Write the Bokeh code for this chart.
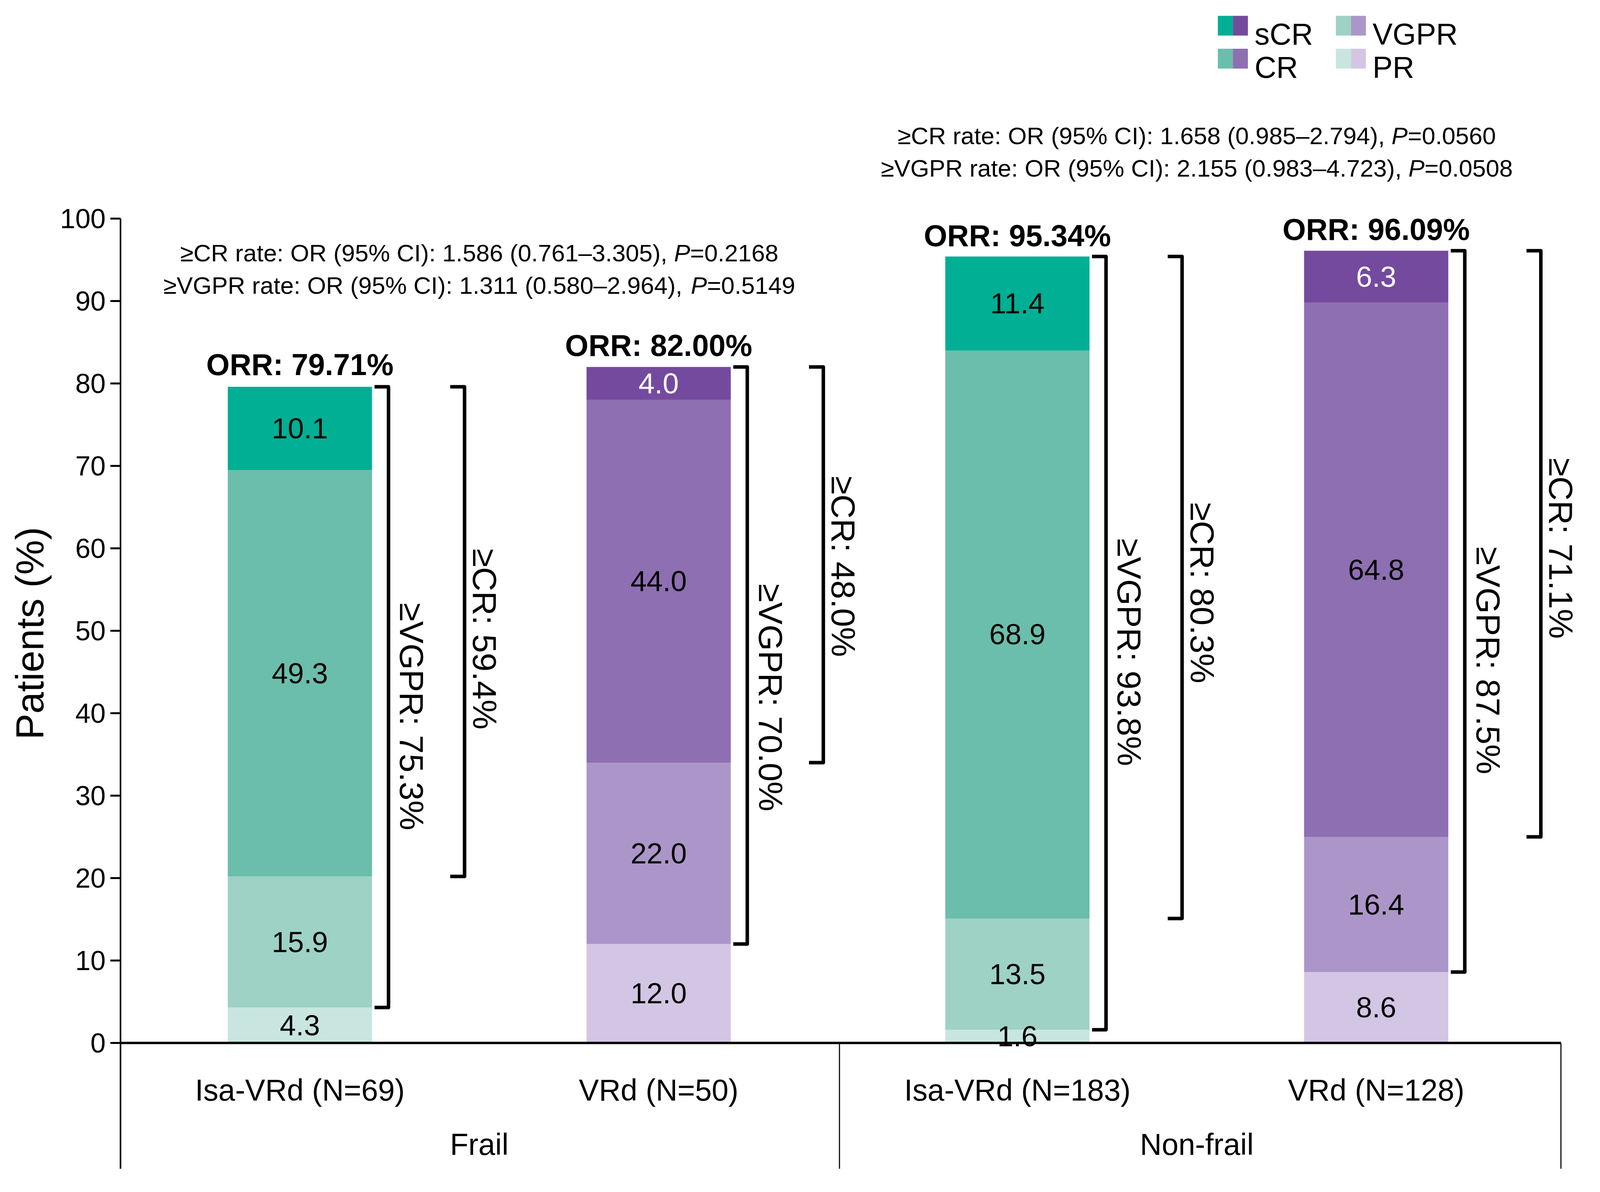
import math
from bokeh.plotting import figure
from bokeh.models import ColumnDataSource, FixedTicker
from bokeh.embed import file_html
from bokeh.resources import INLINE
from bokeh.core.properties import value

# ---------------- data ----------------
groups = ["Frail", "Non-frail"]
arms = ["Isa-VRd (N=69)", "VRd (N=50)", "Isa-VRd (N=183)", "VRd (N=128)"]
arm_group = ["Frail", "Frail", "Non-frail", "Non-frail"]
arm_family = ["isa", "vrd", "isa", "vrd"]
responses = ["PR", "VGPR", "CR", "sCR"]          # stacked bottom -> top
pr = [4.3, 12.0, 1.6, 8.6]
vgpr = [15.9, 22.0, 13.5, 16.4]
cr = [49.3, 44.0, 68.9, 64.8]
scr = [10.1, 4.0, 11.4, 6.3]
orr = [79.71, 82.00, 95.34, 96.09]
y_ticks = [0, 10, 20, 30, 40, 50, 60, 70, 80, 90, 100]
or_lines = {
    "Frail": [("≥CR rate: OR (95% CI): 1.586 (0.761–3.305), ", "P", "=0.2168"),
              ("≥VGPR rate: OR (95% CI): 1.311 (0.580–2.964), ", "P", "=0.5149")],
    "Non-frail": [("≥CR rate: OR (95% CI): 1.658 (0.985–2.794), ", "P", "=0.0560"),
                  ("≥VGPR rate: OR (95% CI): 2.155 (0.983–4.723), ", "P", "=0.0508")],
}
legend_cols = [["sCR", "CR"], ["VGPR", "PR"]]

# ---------------- style ----------------
FONT = "Liberation Sans"
HF = 0.88     # horizontal texts a bit smaller: the window is only 4096 px wide
def fs(px):
    return f"{round(px * HF)}px"

colors = {
    "isa": {"PR": "#C8E6DF", "VGPR": "#9DD2C5", "CR": "#6BBEAB", "sCR": "#00AF94"},
    "vrd": {"PR": "#D3C6E4", "VGPR": "#AC96C9", "CR": "#8E6FB2", "sCR": "#744A9E"},
}
Y0, Y1 = -15.26, 126.49
W, H = 4080, 3035
LEFT = 308

p = figure(width=W, height=H, x_range=(0, 4.107), y_range=(Y0, Y1),
           output_backend="svg", toolbar_location=None, x_axis_location=None,
           min_border_left=LEFT, min_border_right=0, min_border_top=0, min_border_bottom=44)
p.outline_line_color = None
p.xgrid.visible = False
p.ygrid.visible = False
p.background_fill_color = "white"
p.border_fill_color = "white"

ax = p.yaxis[0]
ax.ticker = FixedTicker(ticks=y_ticks)
ax.bounds = (Y0, 100)
ax.axis_line_width = 4
ax.axis_line_color = "black"
ax.major_tick_line_width = 5
ax.major_tick_line_color = "black"
ax.major_tick_out = 26
ax.major_tick_in = 0
ax.minor_tick_line_color = None
ax.major_label_standoff = 12
ax.major_label_text_font = FONT
ax.major_label_text_font_size = fs(80)
ax.major_label_text_color = "black"
# trailing no-break spaces move the centred label down to the middle of 0-100
ax.axis_label = "Patients (%)" + "\u00a0" * 9
ax.axis_label_text_font = FONT
ax.axis_label_text_font_size = "100px"
ax.axis_label_text_font_style = "normal"
ax.axis_label_text_color = "black"
ax.axis_label_standoff = 19

xs = [i + 0.5 for i in range(len(arms))]
BW = 0.402

# ---------------- stacked bars ----------------
bottom = [0.0] * len(arms)
label_sources = []
for resp, layer in zip(responses, [pr, vgpr, cr, scr]):
    top = [b + v for b, v in zip(bottom, layer)]
    src = ColumnDataSource(dict(
        x=xs, bottom=bottom, top=top,
        color=[colors[f][resp] for f in arm_family],
        mid=[(b + t) / 2 for b, t in zip(bottom, top)],
        txt=[f"{v:.1f}" for v in layer],
        tcolor=["white" if (resp == "sCR" and f == "vrd") else "black" for f in arm_family],
    ))
    p.vbar(x="x", width=BW, bottom="bottom", top="top", fill_color="color",
           line_color=None, source=src)
    label_sources.append(src)
    bottom = top
totals = bottom

# x-axis baseline and group separators
p.segment(x0=[0], y0=[0], x1=[4.015], y1=[0], line_width=6, line_color="black")
p.segment(x0=[2.004, 4.015], y0=[0, 0], x1=[2.004, 4.015], y1=[Y0 - 1, Y0 - 1],
          line_width=2.8, line_color="black")

for src in label_sources:
    p.text(x="x", y="mid", text="txt", text_color="tcolor", source=src,
           text_align="center", text_baseline="middle",
           text_font=value(FONT), text_font_size=fs(84))

# ---------------- brackets ----------------
vgpr_low = list(pr)
cr_low = [a + b for a, b in zip(pr, vgpr)]
xs_br, ys_br = [], []
for c, lo, hi in zip(xs, vgpr_low, totals):
    xa, xv = c + 0.208, c + 0.247
    xs_br.append([xa, xv, xv, xa]); ys_br.append([hi, hi, lo, lo])
for c, lo, hi in zip(xs, cr_low, totals):
    xa, xv = c + 0.419, c + 0.459
    xs_br.append([xa, xv, xv, xa]); ys_br.append([hi, hi, lo, lo])
p.multi_line(xs=xs_br, ys=ys_br, line_width=9, line_color="black", line_join="round")

vgpr_label_y = [39.6, 41.9, 47.4, 46.4]
cr_label_y = [49.0, 57.8, 54.6, 60.0]
vgpr_txt = [f"≥VGPR: {v + c_ + s:.1f}%" for v, c_, s in zip(vgpr, cr, scr)]
cr_txt = [f"≥CR: {c_ + s:.1f}%" for c_, s in zip(cr, scr)]
p.text(x=[c + 0.312 for c in xs], y=vgpr_label_y, text=vgpr_txt, angle=-math.pi / 2,
       text_align="center", text_baseline="middle", text_font=value(FONT),
       text_font_size="86px", text_color="black")
p.text(x=[c + 0.515 for c in xs], y=cr_label_y, text=cr_txt, angle=-math.pi / 2,
       text_align="center", text_baseline="middle", text_font=value(FONT),
       text_font_size="86px", text_color="black")

# ---------------- ORR labels ----------------
p.text(x=xs, y=[o + 2.6 for o in orr], text=[f"ORR: {o:.2f}%" for o in orr],
       text_align="center", text_baseline="alphabetic", text_font=value(FONT),
       text_font_style="bold", text_font_size=fs(88), text_color="black")

# ---------------- category / group labels ----------------
p.text(x=xs, y=[-5.73] * len(xs), text=arms, text_align="center", text_baseline="alphabetic",
       text_font=value(FONT), text_font_size=fs(88), text_color="black")
gcent = [sum(x for x, g in zip(xs, arm_group) if g == G) / arm_group.count(G) for G in groups]
p.text(x=gcent, y=[-12.32] * len(groups), text=groups, text_align="center",
       text_baseline="alphabetic", text_font=value(FONT), text_font_size=fs(88),
       text_color="black")

# ---------------- OR annotations (italic P) ----------------
AW = {' ': 278, '(': 333, ')': 333, ',': 278, '-': 333, '.': 278, ':': 278, '=': 584,
      '%': 889, 'C': 722, 'G': 778, 'I': 278, 'O': 778, 'P': 667, 'R': 722, 'V': 667,
      'a': 556, 'e': 556, 'r': 333, 't': 278, '≥': 549, '–': 556}
ANN = round(70 * HF)
def tw(s):
    return sum(AW.get(ch, 556) for ch in s) * ANN / 1000.0

ann_base = {"Frail": [95.83, 91.90], "Non-frail": [110.05, 106.10]}
for G, cx in zip(groups, gcent):
    for (pre, pp, post), yb in zip(or_lines[G], ann_base[G]):
        w1, w2, w3 = tw(pre), tw(pp), tw(post)
        start = -(w1 + w2 + w3) / 2
        for part, off, style in [(pre, start, "normal"), (pp, start + w1, "italic"),
                                 (post, start + w1 + w2, "normal")]:
            p.text(x=[cx], y=[yb], text=[part], x_offset=off, text_align="left",
                   text_baseline="alphabetic", text_font=value(FONT),
                   text_font_style=style, text_font_size=f"{ANN}px", text_color="black")

# ---------------- legend (two-colour swatches) ----------------
col_x = [3.0587, 3.3876]
row_y = [(124.6, 122.2), (120.6, 118.2)]
text_base = [122.37, 118.34]
SW = 0.0419
for ci, names in enumerate(legend_cols):
    for ri, name in enumerate(names):
        top_, bot_ = row_y[ri]
        x0 = col_x[ci]
        p.quad(left=[x0, x0 + SW], right=[x0 + SW, x0 + 2 * SW], top=[top_, top_],
               bottom=[bot_, bot_], fill_color=[colors["isa"][name], colors["vrd"][name]],
               line_color=None)
        p.text(x=[x0 + 2 * SW + 0.0185], y=[text_base[ri]], text=[name], text_align="left",
               text_baseline="alphabetic", text_font=value(FONT), text_font_size=fs(88),
               text_color="black")

open("out.html", "w").write(file_html(p, INLINE))
